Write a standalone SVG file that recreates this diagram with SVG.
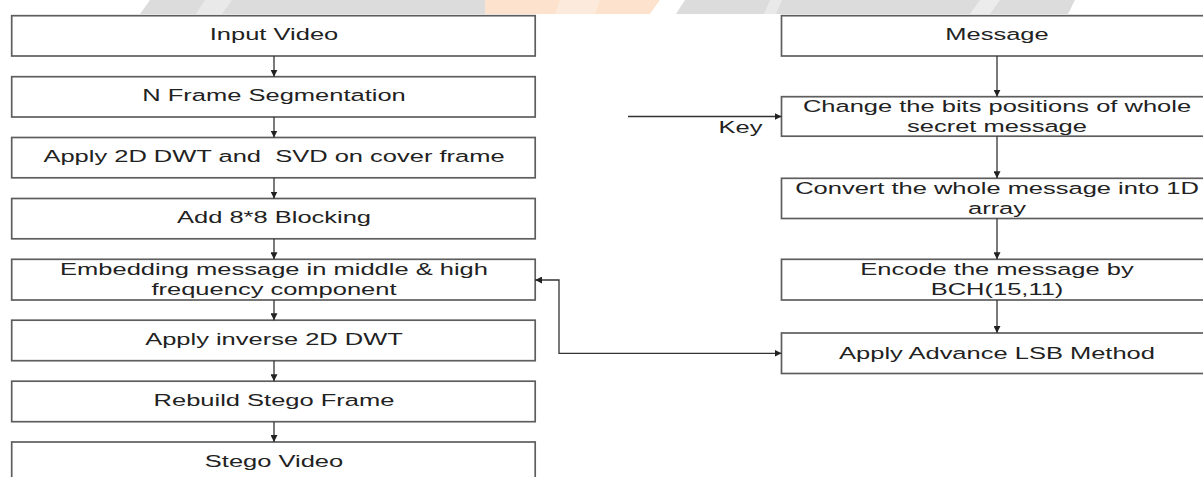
<svg xmlns="http://www.w3.org/2000/svg" width="1203" height="477" viewBox="0 0 1203 477">
  <defs>
    <marker id="head" viewBox="0 0 10 10" refX="10" refY="5" markerWidth="7" markerHeight="7" markerUnits="userSpaceOnUse" orient="auto-start-reverse">
      <path d="M0,0 L10,5 L0,10 z" fill="#222"/>
    </marker>
  </defs>
  <style>
    .box{fill:#fff;stroke:#5e5e5e;stroke-width:1.7}
    .lbl{font-family:"Liberation Sans",Arial,sans-serif;font-size:17px;fill:#222;text-anchor:middle;white-space:pre}
    .wire{fill:none;stroke:#333;stroke-width:1.3}
  </style>

  <rect x="0" y="0" width="1203" height="477" fill="#fff"/>

  <!-- faint backdrop band along the top edge -->
  <g id="backdrop">
    <polygon points="150,0 485,0 485,14 140,14" fill="#dcdcdc"/>
    <polygon points="205,0 232,0 222,14 196,14" fill="#e9e9e9"/>
    <polygon points="485,0 660,0 650,14 485,14" fill="#fde3cd"/>
    <polygon points="560,0 600,0 595,14 555,14" fill="#fcebdc"/>
    <polygon points="685,0 1075,0 1068,14 676,14" fill="#dcdcdc"/>
    <polygon points="770,0 782,0 776,14 764,14" fill="#e9e9e9"/>
    <polygon points="980,0 1000,0 990,14 970,14" fill="#ececec"/>
  </g>

  <!-- embedding pipeline (left column) -->
  <g id="input-video">
    <rect class="box" x="11.7" y="15.7" width="523.5" height="40.3"/>
    <text class="lbl" transform="translate(274,40.2) scale(1.5,1)">Input Video</text>
  </g>
  <g id="frame-segmentation">
    <rect class="box" x="11.7" y="76.7" width="523.5" height="40.3"/>
    <text class="lbl" transform="translate(274,101.2) scale(1.5,1)">N Frame Segmentation</text>
  </g>
  <g id="dwt-svd">
    <rect class="box" x="11.7" y="137.5" width="523.5" height="40.3"/>
    <text class="lbl" transform="translate(274,162) scale(1.5,1)">Apply 2D DWT and&#160; SVD on cover frame</text>
  </g>
  <g id="blocking">
    <rect class="box" x="11.7" y="198.5" width="523.5" height="40.3"/>
    <text class="lbl" transform="translate(274,223) scale(1.5,1)">Add 8*8 Blocking</text>
  </g>
  <g id="embedding">
    <rect class="box" x="11.7" y="259.3" width="523.5" height="40.7"/>
    <text class="lbl" transform="translate(274,275) scale(1.5,1)">Embedding message in middle &amp; high</text>
    <text class="lbl" transform="translate(274,295) scale(1.5,1)">frequency component</text>
  </g>
  <g id="inverse-dwt">
    <rect class="box" x="11.7" y="320.2" width="523.5" height="40.5"/>
    <text class="lbl" transform="translate(274,344.7) scale(1.5,1)">Apply inverse 2D DWT</text>
  </g>
  <g id="rebuild-frame">
    <rect class="box" x="11.7" y="381.2" width="523.5" height="40.5"/>
    <text class="lbl" transform="translate(274,405.7) scale(1.5,1)">Rebuild Stego Frame</text>
  </g>
  <g id="stego-video">
    <rect class="box" x="11.7" y="442" width="523.5" height="40.5"/>
    <text class="lbl" transform="translate(274,466.5) scale(1.5,1)">Stego Video</text>
  </g>

  <!-- message preparation (right column) -->
  <g id="message">
    <rect class="box" x="781.5" y="15.7" width="440" height="40.3"/>
    <text class="lbl" transform="translate(997,40.2) scale(1.5,1)">Message</text>
  </g>
  <g id="bit-permutation">
    <rect class="box" x="781.5" y="96.7" width="440" height="39.5"/>
    <text class="lbl" transform="translate(997,112.3) scale(1.5,1)">Change the bits positions of whole</text>
    <text class="lbl" transform="translate(997,132.3) scale(1.5,1)">secret message</text>
  </g>
  <g id="to-1d-array">
    <rect class="box" x="781.5" y="178.3" width="440" height="40.2"/>
    <text class="lbl" transform="translate(997,194) scale(1.5,1)">Convert the whole message into 1D</text>
    <text class="lbl" transform="translate(997,214) scale(1.5,1)">array</text>
  </g>
  <g id="bch-encode">
    <rect class="box" x="781.5" y="259.3" width="440" height="40.7"/>
    <text class="lbl" transform="translate(997,275) scale(1.5,1)">Encode the message by</text>
    <text class="lbl" transform="translate(997,294.5) scale(1.5,1)">BCH(15,11)</text>
  </g>
  <g id="advance-lsb">
    <rect class="box" x="781.5" y="333" width="440" height="40.5"/>
    <text class="lbl" transform="translate(997,359.3) scale(1.5,1)">Apply Advance LSB Method</text>
  </g>

  <!-- connectors -->
  <g id="connectors" class="wire">
    <path d="M274,56 V76.7" marker-end="url(#head)"/>
    <path d="M274,117 V137.5" marker-end="url(#head)"/>
    <path d="M274,177.8 V198.5" marker-end="url(#head)"/>
    <path d="M274,238.8 V259.3" marker-end="url(#head)"/>
    <path d="M274,300 V320.2" marker-end="url(#head)"/>
    <path d="M274,360.7 V381.2" marker-end="url(#head)"/>
    <path d="M274,421.7 V442" marker-end="url(#head)"/>

    <path d="M997,56 V96.7" marker-end="url(#head)"/>
    <path d="M997,136.2 V178.3" marker-end="url(#head)"/>
    <path d="M997,218.5 V259.3" marker-end="url(#head)"/>
    <path d="M997,300 V333" marker-end="url(#head)"/>

    <path d="M628,116.5 H781.5" marker-end="url(#head)"/>
    <path d="M781.5,353.3 H559 V280 H535.2" marker-start="url(#head)" marker-end="url(#head)"/>
  </g>
  <text class="lbl" transform="translate(740.5,133) scale(1.5,1)">Key</text>
</svg>
